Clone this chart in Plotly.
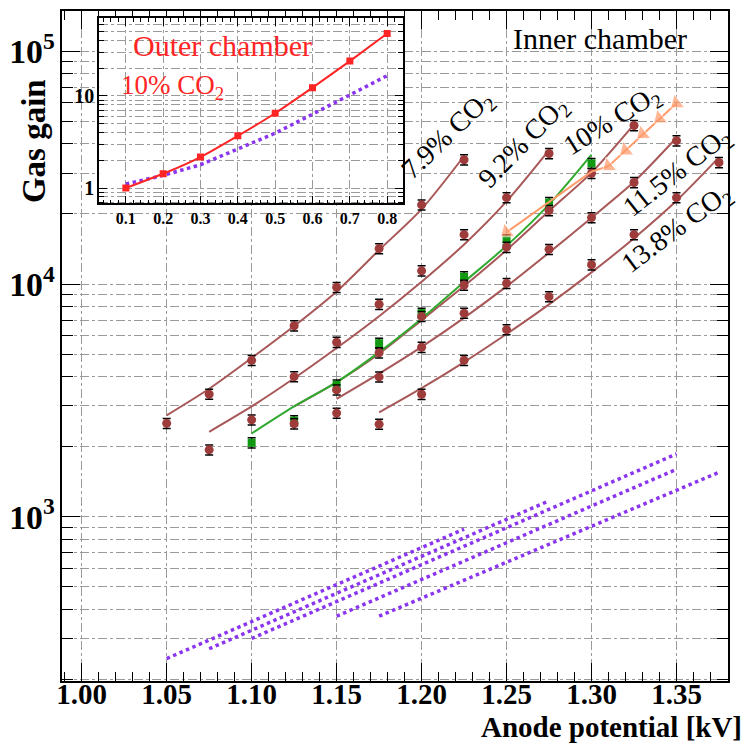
import math
import plotly.graph_objects as go

# ---------------- data ----------------
# Inner chamber, measured gas gain vs anode potential [kV]
v_79 = [1.05, 1.075, 1.10, 1.125, 1.15, 1.175, 1.20, 1.225]
g_79 = [2520, 3365, 4700, 6620, 9680, 14200, 21900, 34200]
fit_79 = [2730, 3550, 4810, 6600, 9300, 14000, 21000, 35500]

v_92 = [1.075, 1.10, 1.125, 1.15, 1.175, 1.20, 1.225, 1.25, 1.275]
g_92 = [1940, 2610, 4000, 5620, 8190, 11400, 16300, 23500, 36400]
fit_92 = [2317, 2979, 3936, 5309, 7278, 10230, 14790, 22650, 37580]

v_10 = [1.125, 1.15, 1.175, 1.20, 1.225, 1.25, 1.275, 1.30, 1.325]
g_10 = [2510, 3510, 5070, 7260, 9900, 14400, 20700, 29900, 48000]
fit_10 = [2980, 3790, 5020, 7000, 9800, 14000, 20600, 30100, 48500]

v_115 = [1.15, 1.175, 1.20, 1.225, 1.25, 1.275, 1.30, 1.325, 1.35]
g_115 = [2790, 3990, 5350, 7500, 10070, 14100, 19300, 27300, 41300]
fit_115 = [3210, 4120, 5370, 7160, 9770, 13650, 19280, 27500, 42500]

v_138 = [1.175, 1.20, 1.225, 1.25, 1.275, 1.30, 1.325, 1.35, 1.375]
g_138 = [2500, 3360, 4700, 6370, 8830, 12100, 16300, 23500, 33300]
fit_138 = [2810, 3570, 4620, 6100, 8180, 11220, 15740, 22800, 35000]

# green (10% CO2, second measurement)
v_green = [1.10, 1.125, 1.15, 1.175, 1.20, 1.225, 1.25, 1.275, 1.30]
g_green = [2080, 2590, 3690, 5570, 7500, 10750, 15500, 22400, 33000]
fit_green = [2280, 2980, 3790, 5100, 7100, 10200, 14600, 22000, 36000]

# orange arrow series
v_orange = [1.25, 1.30, 1.31, 1.32, 1.33, 1.34, 1.35]
g_orange = [16700, 30400, 32100, 37500, 44100, 51500, 59800]

# simulations (purple dotted)
sim_v = {
    "7.9": [1.05, 1.225],
    "9.2": [1.075, 1.275],
    "10": [1.10, 1.35],
    "11.5": [1.15, 1.35],
    "13.8": [1.175, 1.375],
}
sim_g = {
    "7.9": [246, 885],
    "9.2": [271, 1171],
    "10": [300, 1862],
    "11.5": [374, 1600],
    "13.8": [374, 1553],
}

# Inset: outer chamber 10% CO2
inset_v = [0.1, 0.2, 0.3, 0.4, 0.5, 0.6, 0.7, 0.8]
inset_meas = [1.0, 1.43, 2.17, 3.69, 6.49, 12.3, 23.9, 47.7]
inset_sim = [1.105, 1.37, 1.79, 2.65, 3.94, 6.34, 10.25, 16.6]

series_labels = ["7.9% CO<sub>2</sub>", "9.2% CO<sub>2</sub>", "10% CO<sub>2</sub>",
                 "11.5% CO<sub>2</sub>", "13.8% CO<sub>2</sub>"]

# ---------------- styling ----------------
BROWN_M = "#9e3b3b"
BROWN_L = "#a85858"
GREEN_M = "#119a11"
GREEN_L = "#2faa2f"
ORANGE = "#ff9a6a"
PURPLE = "#8a35f0"
RED = "#ff2525"
GRID = "#9a9a9a"
SERIF = "Liberation Serif"

W, H = 745, 745
L, R, T, B = 50, 17, 9, 64
PW, PH = W - L - R, H - T - B


def px(xp):
    return (xp - L) / PW


def py(yp):
    return (H - B - yp) / PH


fig = go.Figure()

err = dict(type="percent", value=5, color="black", thickness=1.5, width=4)

# fit lines
for vx, fy in [(v_79, fit_79), (v_92, fit_92), (v_10, fit_10), (v_115, fit_115), (v_138, fit_138)]:
    fig.add_trace(go.Scatter(x=vx, y=fy, mode="lines", line=dict(color=BROWN_L, width=2, shape="spline", smoothing=0.8),
                             hoverinfo="skip"))
fig.add_trace(go.Scatter(x=v_green, y=fit_green, mode="lines",
                         line=dict(color=GREEN_L, width=2, shape="spline", smoothing=0.8)))

# simulations
for k in sim_v:
    fig.add_trace(go.Scatter(x=sim_v[k], y=sim_g[k], mode="lines", line=dict(color=PURPLE, width=3.5, dash="dot")))

# measured points
fig.add_trace(go.Scatter(x=v_green, y=g_green, mode="markers",
                         marker=dict(symbol="square", size=8, color=GREEN_M), error_y=err))
for vx, gy in [(v_79, g_79), (v_92, g_92), (v_10, g_10), (v_115, g_115), (v_138, g_138)]:
    fig.add_trace(go.Scatter(x=vx, y=gy, mode="markers",
                             marker=dict(symbol="circle", size=9, color=BROWN_M), error_y=err))

# orange
osizes = [0 if abs(v - 1.30) < 1e-9 else 15 for v in v_orange]
fig.add_trace(go.Scatter(x=v_orange, y=g_orange, mode="lines+markers",
                         line=dict(color=ORANGE, width=2),
                         marker=dict(symbol="triangle-left", size=osizes, color=ORANGE, angle=-38)))

# inset traces
fig.add_trace(go.Scatter(x=inset_v, y=inset_sim, mode="lines", xaxis="x2", yaxis="y2",
                         line=dict(color=PURPLE, width=3.5, dash="dot")))
fig.add_trace(go.Scatter(x=inset_v, y=inset_meas, mode="lines+markers", xaxis="x2", yaxis="y2",
                         line=dict(color=RED, width=2, shape="spline", smoothing=0.5),
                         marker=dict(symbol="square", size=7, color=RED)))

tickfont_x = dict(family=SERIF, size=29, color="black", weight="bold")
tickfont_y = dict(family=SERIF, size=27, color="black", weight="bold")
tickfont_inset = dict(family=SERIF, size=16, color="black", weight="bold")

common_axis = dict(showline=True, linecolor="black", linewidth=1.6, mirror="allticks",
                   ticks="inside", tickcolor="black", zeroline=False,
                   showgrid=True, gridcolor=GRID, gridwidth=1, griddash="dashdot")

# inset position in pixels
ix0, ix1, iy0, iy1 = 88, 397, 16, 202

fig.update_layout(
    width=W, height=H, margin=dict(l=L, r=R, t=T, b=B),
    paper_bgcolor="white", plot_bgcolor="white", showlegend=False,
    xaxis=dict(**common_axis, domain=[0, 1], range=[0.9884, 1.3803], tick0=1.0, dtick=0.05,
               tickformat=".2f", ticklen=18, tickwidth=1.4, tickfont=tickfont_x, ticklabelstandoff=-14,
               minor=dict(dtick=0.01, tick0=1.0, ticks="inside", ticklen=9, tickwidth=1.2,
                          tickcolor="black", showgrid=False)),
    yaxis=dict(**common_axis, domain=[0, 1], type="log",
               range=[math.log10(197), math.log10(149000)], dtick=1, exponentformat="power",
               ticklen=18, tickwidth=1.4, tickfont=tickfont_y,
               minor=dict(dtick="D1", ticks="inside", ticklen=11, tickwidth=1.2, tickcolor="black",
                          showgrid=True, gridcolor=GRID, gridwidth=1, griddash="dashdot")),
    xaxis2=dict(**common_axis, domain=[px(ix0), px(ix1)], anchor="y2", range=[0.029, 0.842],
                tick0=0.1, dtick=0.1, tickformat=".1f", ticklen=8, tickwidth=1.2, tickfont=tickfont_inset,
                minor=dict(dtick=0.02, tick0=0.1, ticks="inside", ticklen=4, tickwidth=1, tickcolor="black",
                           showgrid=False)),
    yaxis2=dict(**common_axis, domain=[py(iy1), py(iy0)], anchor="x2", type="log",
                range=[math.log10(0.68), math.log10(70.3)], dtick=1, exponentformat="power",
                ticklen=8, tickwidth=1.2, tickfont=tickfont_inset,
                minor=dict(dtick="D1", ticks="inside", ticklen=5, tickwidth=1, tickcolor="black",
                           showgrid=True, gridcolor=GRID, gridwidth=1, griddash="dashdot")),
)

ann = []
# axis titles
ann.append(dict(text="<b>Anode potential [kV]</b>", x=px(744), y=py(727), xref="paper", yref="paper",
                xanchor="right", yanchor="middle", showarrow=False,
                font=dict(family=SERIF, size=29, color="black")))
ann.append(dict(text="<b>Gas gain</b>", x=px(21), y=py(140), xref="paper", yref="paper",
                xanchor="center", yanchor="middle", textangle=-90, showarrow=False,
                font=dict(family=SERIF, size=33, color="black")))
ann.append(dict(text="Inner chamber", x=px(598), y=py(37), xref="paper", yref="paper",
                xanchor="center", yanchor="middle", showarrow=False,
                font=dict(family=SERIF, size=30, color="black")))
ann.append(dict(text="Outer chamber", x=px(213), y=py(44), xref="paper", yref="paper",
                xanchor="center", yanchor="middle", showarrow=False,
                font=dict(family=SERIF, size=30, color=RED)))
ann.append(dict(text="10% CO<sub>2</sub>", x=px(108), y=py(85), xref="paper", yref="paper",
                xanchor="left", yanchor="middle", showarrow=False,
                font=dict(family=SERIF, size=27, color=RED)))
label_pos = [(443, 134, -44), (520, 142, -46), (610, 120, -32), (677, 171, -38), (676, 228, -37)]
for txt, (xx, yy, ang) in zip(series_labels, label_pos):
    ann.append(dict(text=txt, x=px(xx), y=py(yy), xref="paper", yref="paper",
                    xanchor="center", yanchor="middle", textangle=ang, showarrow=False,
                    font=dict(family=SERIF, size=28, color="black")))
fig.update_layout(annotations=ann)

fig.write_html("out.html")
